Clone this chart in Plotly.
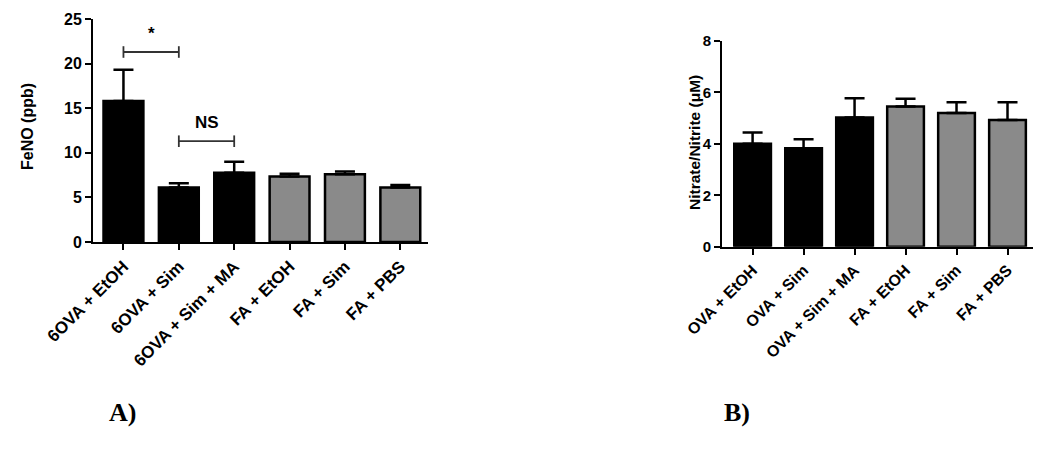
import plotly.graph_objects as go

# ---- data ----
cats_a = ["6OVA + EtOH", "6OVA + Sim", "6OVA + Sim + MA", "FA + EtOH", "FA + Sim", "FA + PBS"]
feno_mean = [15.8, 6.1, 7.75, 7.35, 7.6, 6.1]
feno_err = [3.5, 0.5, 1.25, 0.3, 0.3, 0.3]

cats_b = ["OVA + EtOH", "OVA + Sim", "OVA + Sim + MA", "FA + EtOH", "FA + Sim", "FA + PBS"]
nox_mean = [4.0, 3.83, 5.02, 5.45, 5.2, 4.93]
nox_err = [0.44, 0.35, 0.75, 0.3, 0.42, 0.69]

bar_colors = ["#000000", "#000000", "#000000", "#8a8a8a", "#8a8a8a", "#8a8a8a"]

# significance brackets (category index pairs, level, label)
sig_pairs = [(0, 1, 21.3, "*"), (1, 2, 11.3, "NS")]

W, H = 1050, 464
OFF = 8  # page body margin
fig = go.Figure()

def px_x(p):
    return (p - OFF) / W

def px_y(p):
    return 1 - (p - OFF) / H

for cats, means, errs, xa, ya in [(cats_a, feno_mean, feno_err, "x", "y"),
                                  (cats_b, nox_mean, nox_err, "x2", "y2")]:
    fig.add_trace(go.Bar(
        x=list(range(len(cats))), y=means, xaxis=xa, yaxis=ya,
        marker=dict(color=bar_colors, line=dict(color="black", width=2.5)),
        width=0.72,
        error_y=dict(type="data", array=errs, arrayminus=[0] * len(errs), symmetric=False,
                     color="black", thickness=2.5, width=10),
        showlegend=False,
    ))

FONT = "Liberation Sans, Arial"

def axx(size):
    return dict(tickmode="array", tickangle=-45,
                tickfont=dict(family=FONT, size=size, color="black", weight="bold"),
                showline=True, linecolor="black", linewidth=2, ticks="outside", ticklen=6,
                tickwidth=2, tickcolor="black", showgrid=False, zeroline=False, automargin=False)

def axy(size):
    return dict(showline=True, linecolor="black", linewidth=2, ticks="outside", ticklen=6,
                tickwidth=2, tickcolor="black", showgrid=False, zeroline=False,
                tickfont=dict(family=FONT, size=size, color="black", weight="bold"),
                automargin=False)

fig.update_layout(
    width=W, height=H,
    margin=dict(l=0, r=0, t=0, b=0),
    plot_bgcolor="white", paper_bgcolor="white",
    xaxis=dict(domain=[px_x(93), px_x(428)], range=[-0.55, 5.5], anchor="y",
               tickvals=list(range(6)), ticktext=cats_a, **axx(17)),
    yaxis=dict(domain=[px_y(242), px_y(19)], range=[0, 25], anchor="x",
               tickvals=[0, 5, 10, 15, 20, 25], **axy(16)),
    xaxis2=dict(domain=[px_x(722), px_x(1033)], range=[-0.6, 5.5], anchor="y2",
                tickvals=list(range(6)), ticktext=cats_b, **axx(16)),
    yaxis2=dict(domain=[px_y(246.7), px_y(41)], range=[0, 8], anchor="x2",
                tickvals=[0, 2, 4, 6, 8], **axy(15)),
)

shapes = []
annotations = []
for a, b, lvl, lab in sig_pairs:
    shapes.append(dict(type="line", xref="x", yref="y", x0=a, x1=b, y0=lvl, y1=lvl,
                       line=dict(color="#333333", width=1.8)))
    for xx in (a, b):
        shapes.append(dict(type="line", xref="x", yref="y", x0=xx, x1=xx, y0=lvl - 0.65, y1=lvl + 0.65,
                           line=dict(color="#333333", width=1.8)))
    annotations.append(dict(x=(a + b) / 2, y=lvl + 0.8, xref="x", yref="y", text=lab, showarrow=False,
                            xanchor="center", yanchor="bottom",
                            font=dict(family=FONT, size=17, color="black", weight="bold")))

# axis titles
annotations.append(dict(x=px_x(27), y=px_y(127), xref="paper", yref="paper", text="FeNO (ppb)",
                        textangle=-90, showarrow=False, xanchor="center", yanchor="middle",
                        font=dict(family=FONT, size=16, color="black", weight="bold")))
annotations.append(dict(x=px_x(694), y=px_y(143), xref="paper", yref="paper", text="Nitrate/Nitrite (μM)",
                        textangle=-90, showarrow=False, xanchor="center", yanchor="middle",
                        font=dict(family=FONT, size=15.5, color="black", weight="bold")))

# panel labels
annotations.append(dict(x=px_x(122), y=px_y(412), xref="paper", yref="paper", text="A)", showarrow=False,
                        xanchor="center", yanchor="middle",
                        font=dict(family="Liberation Serif, Times New Roman", size=26, color="black", weight="bold")))
annotations.append(dict(x=px_x(737), y=px_y(412), xref="paper", yref="paper", text="B)", showarrow=False,
                        xanchor="center", yanchor="middle",
                        font=dict(family="Liberation Serif, Times New Roman", size=26, color="black", weight="bold")))

fig.update_layout(shapes=shapes, annotations=annotations)
fig.write_html("out.html")
